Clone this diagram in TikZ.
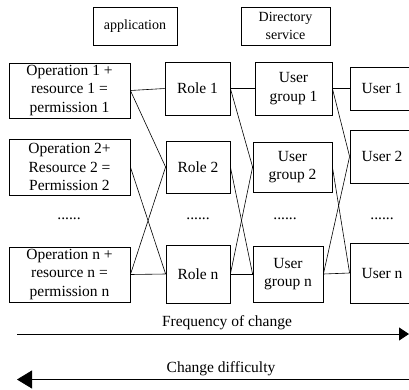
\documentclass[tikz,border=0pt]{standalone}
\usepackage{fontspec}
\setmainfont{Liberation Serif}
\newfontfamily\timesface{Liberation Serif}
\usetikzlibrary{positioning,arrows.meta}

\begin{document}
\begin{tikzpicture}[
    x=1pt, y=-1pt,
    box/.style={draw, line width=0.8pt, inner sep=0pt, align=center,
        font=\timesface\fontsize{15.5}{18.6}\selectfont},
    head/.style={draw, line width=0.8pt, inner sep=0pt, align=center,
        minimum width=#1, minimum height=38pt,
        font=\timesface\fontsize{14}{18}\selectfont},
    dots/.style={font=\timesface\fontsize{15.5}{18.6}\selectfont},
    link/.style={line width=0.6pt},
    trend/.style={line width=0.8pt}
]
    \useasboundingbox (0,0) rectangle (409,389);

    % Layer headings
    \node[head=84pt] (app) at (135,26) {application};
    \node[head=89pt] (dir) at (285.5,26) {Directory\\service};

    % Permissions
    \node[box, minimum width=121pt, minimum height=55pt] (op1) at (69.5,90.5) {Operation 1 +\\resource 1 =\\permission 1};
    \node[box, minimum width=121pt, minimum height=56pt] (op2) at (69.5,167) {Operation 2+\\Resource 2 =\\Permission 2};
    \node[box, minimum width=121pt, minimum height=55pt] (opn) at (69.5,274.5) {Operation n +\\resource n =\\permission n};

    % Roles
    \node[box, minimum width=65pt, minimum height=53pt] (role1) at (197.5,88.5) {Role 1};
    \node[box, minimum width=64pt, minimum height=52pt] (role2) at (198,167) {Role 2};
    \node[box, minimum width=64pt, minimum height=58pt] (rolen) at (198,274) {Role n};

    % User groups
    \node[box, minimum width=77pt, minimum height=53pt] (ug1) at (293.5,88.5) {User\\group 1};
    \node[box, minimum width=79pt, minimum height=50pt] (ug2) at (292.5,167) {User\\group 2};
    \node[box, minimum width=70pt, minimum height=56pt] (ugn) at (288,274) {User\\group n};

    % Users (cut by the right edge)
    \node[box, minimum width=64pt, minimum height=43pt] (user1) at (382,88.5) {User 1};
    \node[box, minimum width=64pt, minimum height=53pt] (user2) at (382,156.5) {User 2};
    \node[box, minimum width=64pt, minimum height=60pt] (usern) at (382,273) {User n};

    % Ellipsis row
    \foreach \n/\x in {op/69, role/198, ug/285, user/382} {
        \node[dots] (\n dots) at (\x,219) {......};
    }

    % Links between layers
    \foreach \a/\b in {op/role, role/ug, ug/user} {
        \draw[link] (\a1.east) -- (\b1.west);
        \draw[link] (\a1.east) -- (\b2.west);
        \draw[link] (\a2.east) -- (\b n.west);
        \draw[link] (\a n.east) -- (\b2.west);
        \draw[link] (\a n.east) -- (\b n.west);
    }

    % Trends
    \coordinate (freqs) at (17,334);
    \coordinate (freqe) at (409,334);
    \draw[trend, -{Triangle[length=10pt, width=13pt]}] (freqs) -- (freqe);
    \node[dots] (freq) at (227,323) {Frequency of change};

    \coordinate (diffs) at (409,379.5);
    \coordinate (diffe) at (17,379.5);
    \draw[trend, -{Triangle[length=15pt, width=18pt]}] (diffs) -- (diffe);
    \node[dots] (diff) at (221,369) {Change difficulty};
\end{tikzpicture}
\end{document}
